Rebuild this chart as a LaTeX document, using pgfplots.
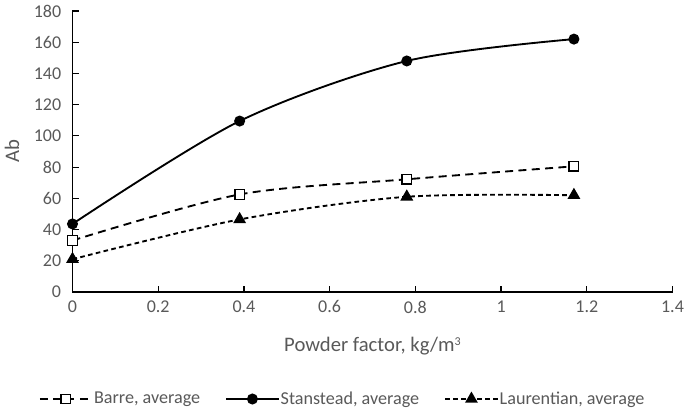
\documentclass[border=0pt]{standalone}
\usepackage{fontspec}
\setmainfont{Carlito}
\usepackage{pgfplots}
\pgfplotsset{compat=1.18}
\definecolor{txt}{HTML}{595959}
\begin{document}
\begin{tikzpicture}
\useasboundingbox (-54.375pt,-89.25pt) rectangle (459.375pt,219pt);
\begin{axis}[
  at={(0,0)}, anchor=south west,
  scale only axis, width=450pt, height=210.75pt,
  xmin=0, xmax=1.4, ymin=0, ymax=180,
  xtick={0,0.2,0.4,0.6,0.8,1,1.2,1.4},
  ytick={0,20,40,60,80,100,120,140,160,180},
  axis x line=bottom, axis y line=left,
  axis line style={-, line width=0.9pt, black},
  tick align=inside, major tick length=4.5pt,
  tick style={black, line width=0.9pt},
  ticklabel style={font=\fontsize{13.5}{15}\selectfont, text=txt},
  /pgf/number format/assume math mode=true,
  xticklabel style={yshift=-3pt},
  yticklabel style={xshift=-5pt},
  xlabel={Powder factor, kg/m{\fontsize{9}{10}\selectfont\raisebox{1.1ex}{3}}},
  xlabel style={font=\fontsize{15.5}{17}\selectfont, text=txt, at={(axis description cs:0.5,-0.2135)}, anchor=base},
  ylabel={Ab},
  ylabel style={font=\fontsize{15.5}{17}\selectfont, text=txt, at={(axis description cs:-0.1008,0.5)}, anchor=center},
  legend columns=3,
  legend style={at={(axis description cs:0.4508,-0.3808)}, anchor=center, draw=none,
    font=\fontsize{13.6}{15}\selectfont, text=txt,
    /tikz/every odd column/.append style={column sep=-1pt},
    /tikz/every even column/.append style={column sep=17pt}},
  legend image code/.code={\draw[mark repeat=2,mark phase=2] plot coordinates {(0pt,0pt) (19.5pt,0pt) (39pt,0pt)};},
]
\addplot[black, line width=1.4pt, dash pattern=on 6pt off 4pt, smooth, mark=square*, mark size=3.6pt, mark options={solid, fill=white, line width=1pt}]
  coordinates {(0,33) (0.39,62.5) (0.78,72.2) (1.17,80.5)};
\addlegendentry{Barre, average}
\addplot[black, line width=1.4pt, smooth, mark=*, mark size=3.4pt, mark options={solid, fill=black}]
  coordinates {(0,43.6) (0.39,109.5) (0.78,148) (1.17,162)};
\addlegendentry{Stanstead, average}
\addplot[black, line width=1.4pt, dash pattern=on 3.5pt off 2.5pt, smooth, mark=triangle*, mark size=4.2pt, mark options={solid, fill=black}]
  coordinates {(0,21) (0.39,46.5) (0.78,61) (1.17,62)};
\addlegendentry{Laurentian, average}
\end{axis}
\end{tikzpicture}
\end{document}
